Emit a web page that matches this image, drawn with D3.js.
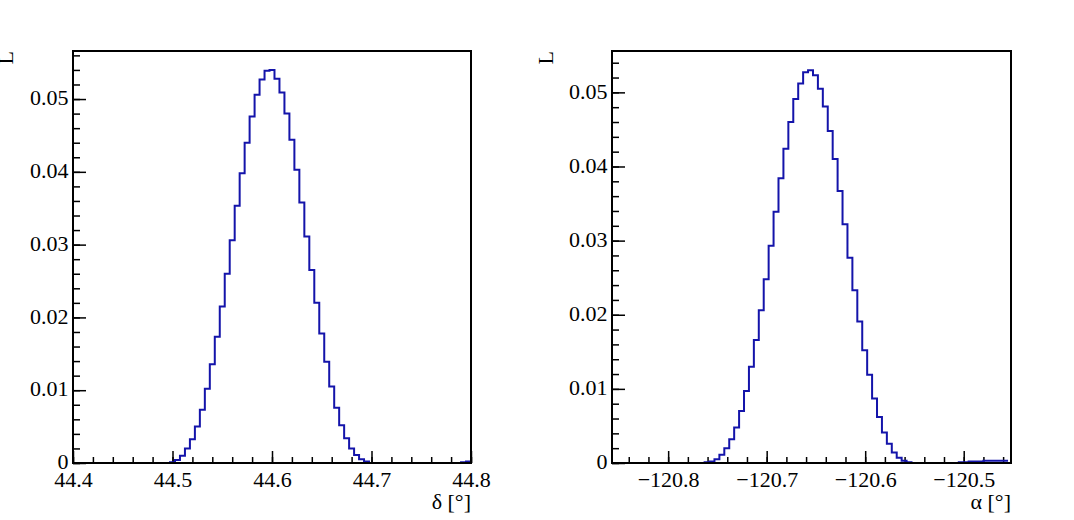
<!DOCTYPE html>
<html>
<head>
<meta charset="utf-8">
<script src="https://cdn.jsdelivr.net/npm/d3@7"></script>
<style>
  body { margin: 0; background: #fff; }
  text { font-family: "Liberation Serif", "DejaVu Serif", serif; fill: #000; }
</style>
</head>
<body>
<div class="chart"></div>
<script>
// bin width shared by both histograms
let binW = 0.005;

// left histogram: declination delta
let deltaStart = 44.4975;
let deltaVals = [0.0001, 0.0004, 0.001, 0.002, 0.00325, 0.005, 0.0073, 0.0102, 0.01355, 0.01735,
  0.0215, 0.026, 0.0306, 0.03535, 0.0398, 0.044, 0.0476, 0.0506, 0.0527, 0.0539,
  0.054, 0.0528, 0.0509, 0.048, 0.0444, 0.0403, 0.0358, 0.0311, 0.0265, 0.022,
  0.0178, 0.0139, 0.0105, 0.0076, 0.0052, 0.0034, 0.002, 0.0011, 0.0005, 0.0002];
let deltaTailStart = 44.79;
let deltaTail = [0.0001, 0.0002];

// right histogram: right ascension alpha
let alphaStart = -120.763;
let alphaVals = [0.0001, 0.0002, 0.0005, 0.0011, 0.002, 0.0032, 0.0048, 0.007, 0.0097, 0.013,
  0.0166, 0.0206, 0.0248, 0.0293, 0.0339, 0.0384, 0.0424, 0.046, 0.0491, 0.0512,
  0.0527, 0.053, 0.0523, 0.0505, 0.0481, 0.0448, 0.041, 0.0367, 0.0322, 0.0277,
  0.0233, 0.0191, 0.0152, 0.0119, 0.0087, 0.0062, 0.0041, 0.0026, 0.0014, 0.0007,
  0.0003, 0.0001];
let alphaTailStart = -120.505;
let alphaTail = [0.0001, 0.0001, 0.0002, 0.0002, 0.0002, 0.0003, 0.0003, 0.0003, 0.0003, 0.0003];

// tick values
let yMajor = [0, 0.01, 0.02, 0.03, 0.04, 0.05];
let deltaMajor = [44.4, 44.5, 44.6, 44.7, 44.8];
let alphaMajor = [-120.8, -120.7, -120.6, -120.5];

let svgW = 1074;
let svgH = 520;
let plotTop = 51, plotBottom = 463;
let font = "Liberation Serif";

let svg = d3.select(".chart")
  .append("svg")
  .attr("width", svgW)
  .attr("height", svgH);

function drawPanel(p) {
  let x = d3.scaleLinear().domain(p.xDomain).range([p.left, p.right]);
  let y = d3.scaleLinear().domain([0, p.yMax]).range([plotBottom, plotTop]);

  // histogram as a step line across the whole axis range
  let pts = [[p.xDomain[0], 0], [p.start, 0]];
  p.vals.forEach((v, i) => {
    pts.push([p.start + i * binW, v]);
    pts.push([p.start + (i + 1) * binW, v]);
  });
  pts.push([p.start + p.vals.length * binW, 0]);
  pts.push([p.tailStart, 0]);
  p.tail.forEach((v, i) => {
    pts.push([p.tailStart + i * binW, v]);
    pts.push([Math.min(p.tailStart + (i + 1) * binW, p.xDomain[1]), v]);
  });

  let line = d3.line().x(d => x(d[0])).y(d => y(d[1]));

  // minor ticks
  let xMinor = d3.range(Math.ceil(p.xDomain[0] / 0.02 - 1e-6), Math.floor(p.xDomain[1] / 0.02 + 1e-6) + 1)
    .map(k => +(k * 0.02).toFixed(3));
  let yMinor = d3.range(0, Math.floor(p.yMax / 0.002 + 1e-6) + 1).map(k => k * 0.002);

  svg.append("g")
    .attr("transform", `translate(0, ${plotBottom})`)
    .call(d3.axisBottom(x).tickValues(xMinor).tickSize(-6).tickFormat(""))
    .call(g => g.select(".domain").remove())
    .selectAll("line").attr("stroke-width", 1.5);

  svg.append("g")
    .attr("transform", `translate(${p.left}, 0)`)
    .call(d3.axisLeft(y).tickValues(yMinor).tickSize(-7).tickFormat(""))
    .call(g => g.select(".domain").remove())
    .selectAll("line").attr("stroke-width", 1.5);

  // major ticks with labels
  let xAxis = svg.append("g")
    .attr("transform", `translate(0, ${plotBottom})`)
    .call(d3.axisBottom(x).tickValues(p.xMajor).tickSize(-12).tickPadding(8.5).tickFormat(d3.format(".1f")))
    .attr("font-family", font)
    .attr("font-size", 22)
    .call(g => g.select(".domain").remove());
  xAxis.selectAll("line").attr("stroke-width", 1.5);

  let yAxis = svg.append("g")
    .attr("transform", `translate(${p.left}, 0)`)
    .call(d3.axisLeft(y).tickValues(yMajor).tickSize(-13).tickPadding(4.5)
      .tickFormat(d => d === 0 ? "0" : d3.format(".2f")(d)))
    .attr("font-family", font)
    .attr("font-size", 22)
    .call(g => g.select(".domain").remove());
  yAxis.selectAll("line").attr("stroke-width", 1.5);
  yAxis.selectAll("text").attr("dy", "0.26em");

  svg.append("path")
    .datum(pts)
    .attr("d", line)
    .attr("fill", "none")
    .attr("stroke", "#1414aa")
    .attr("stroke-width", 2);

  // frame
  svg.append("rect")
    .attr("x", p.left)
    .attr("y", plotTop)
    .attr("width", p.right - p.left)
    .attr("height", plotBottom - plotTop)
    .attr("fill", "none")
    .attr("stroke", "#000")
    .attr("stroke-width", 2);

  // axis titles
  svg.append("text")
    .attr("x", p.right)
    .attr("y", 509)
    .attr("text-anchor", "end")
    .attr("font-family", font)
    .attr("font-size", 22)
    .text(p.xTitle);

  svg.append("text")
    .attr("transform", `translate(${p.yTitleX}, ${plotTop}) rotate(-90)`)
    .attr("text-anchor", "end")
    .attr("font-family", font)
    .attr("font-size", 22)
    .text("L");
}

drawPanel({
  left: 73, right: 471,
  xDomain: [44.4, 44.8], yMax: 0.0566,
  start: deltaStart, vals: deltaVals,
  tailStart: deltaTailStart, tail: deltaTail,
  xMajor: deltaMajor, xTitle: "δ [°]", yTitleX: 13
});

drawPanel({
  left: 612, right: 1011,
  xDomain: [-120.857, -120.452], yMax: 0.05558,
  start: alphaStart, vals: alphaVals,
  tailStart: alphaTailStart, tail: alphaTail,
  xMajor: alphaMajor, xTitle: "α [°]", yTitleX: 553
});
</script>
</body>
</html>
